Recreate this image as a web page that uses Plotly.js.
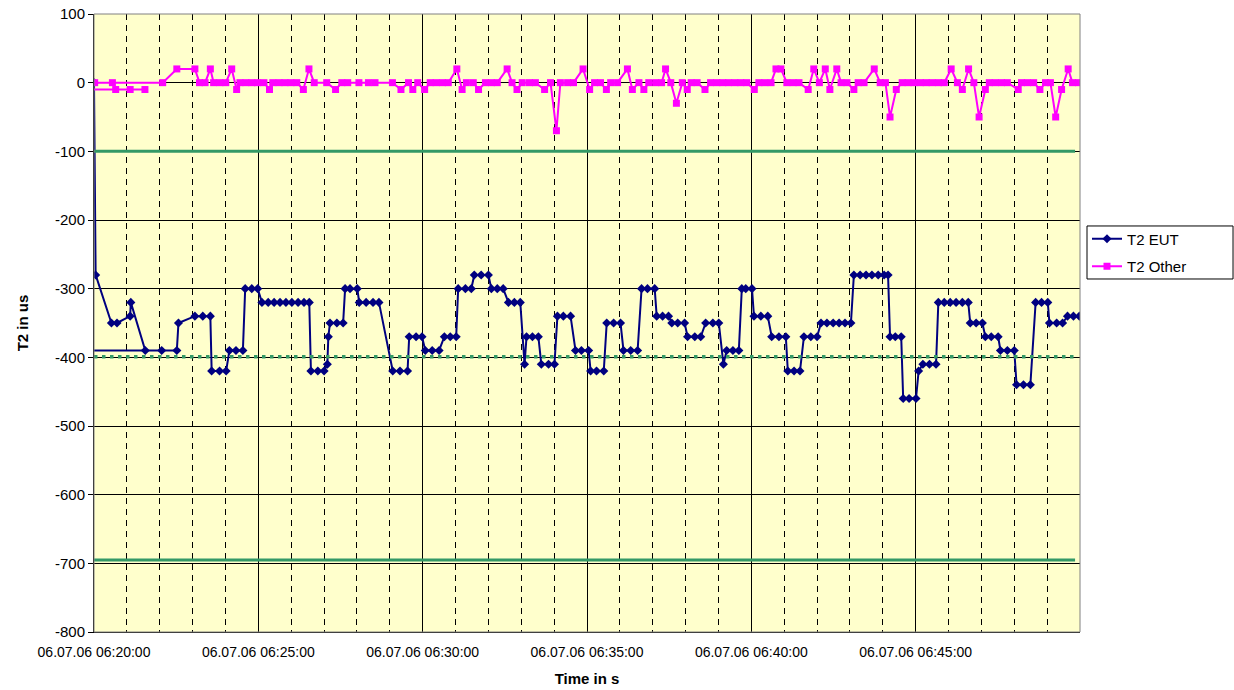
<!DOCTYPE html>
<html>
<head>
<meta charset="utf-8">
<script src="https://cdn.plot.ly/plotly-3.0.1.min.js"></script>
<style>html,body{margin:0;padding:0;background:#fff;}#chart{width:1234px;height:690px;}</style>
</head>
<body>
<div id="chart"></div>
<script>
// x values: minutes elapsed after 06.07.06 06:20:00
const timeTickMinutes = [0, 5, 10, 15, 20, 25];
const timeTickLabels = ["06.07.06 06:20:00", "06.07.06 06:25:00", "06.07.06 06:30:00",
                        "06.07.06 06:35:00", "06.07.06 06:40:00", "06.07.06 06:45:00"];
const valueTicks = [100, 0, -100, -200, -300, -400, -500, -600, -700, -800];
const valueTickLabels = ["100", "0", "-100", "-200", "-300", "-400", "-500", "-600", "-700", "-800"];

const eutMinutes = [
  0.00,0.05,0.53,0.70,1.10,1.12,1.56,
  -0.50,2.06,2.52,
  2.57,3.07,3.31,3.54,
  3.58,3.82,4.02,4.12,4.32,4.53,
  4.60,4.80,4.98,
  5.11,5.30,5.48,5.66,5.84,6.02,6.21,6.39,6.55,
  6.60,6.81,7.00,7.10,7.13,
  7.18,7.39,7.58,7.64,7.79,8.01,
  8.07,8.28,8.49,8.67,
  9.09,9.31,9.54,9.59,9.80,9.98,
  10.08,10.29,10.50,10.66,10.84,11.02,
  11.08,11.30,11.48,11.57,11.78,12.00,
  12.09,12.27,12.45,12.61,12.79,12.97,
  13.10,13.16,13.34,13.52,
  13.61,13.83,14.01,14.10,14.28,14.50,
  14.65,14.83,15.05,15.11,15.29,15.51,
  15.60,15.81,16.02,16.11,16.33,16.54,
  16.66,16.84,17.06,17.12,17.30,17.48,
  17.58,17.76,17.97,18.06,18.28,18.46,
  18.61,18.83,19.01,19.15,
  19.25,19.44,19.62,19.71,19.83,20.02,
  20.08,20.29,20.50,20.62,20.84,21.05,
  21.11,21.30,21.48,21.60,21.81,22.00,
  22.12,22.30,22.49,22.67,22.85,23.03,
  23.12,23.31,23.49,23.67,23.86,24.04,24.16,
  24.22,24.38,24.56,24.62,24.80,25.01,
  25.09,25.22,25.42,25.62,
  25.69,25.87,26.05,26.23,26.42,26.60,
  26.66,26.84,27.03,27.12,27.30,27.51,
  27.58,27.79,28.00,28.07,28.28,28.49,
  28.65,28.83,29.02,29.07,29.29,29.47,
  29.62,29.80,29.98
];
const eutValues = [
  0,-280,-350,-350,-340,-320,-390,
  -390,-390,-390,
  -350,-340,-340,-340,
  -420,-420,-420,-390,-390,-390,
  -300,-300,-300,
  -320,-320,-320,-320,-320,-320,-320,-320,-320,
  -420,-420,-420,-410,-370,
  -350,-350,-350,-300,-300,-300,
  -320,-320,-320,-320,
  -420,-420,-420,-370,-370,-370,
  -390,-390,-390,-370,-370,-370,
  -300,-300,-300,-280,-280,-280,
  -300,-300,-300,-320,-320,-320,
  -410,-370,-370,-370,
  -410,-410,-410,-340,-340,-340,
  -390,-390,-390,-420,-420,-420,
  -350,-350,-350,-390,-390,-390,
  -300,-300,-300,-340,-340,-340,
  -350,-350,-350,-370,-370,-370,
  -350,-350,-350,-410,
  -390,-390,-390,-300,-300,-300,
  -340,-340,-340,-370,-370,-370,
  -420,-420,-420,-370,-370,-370,
  -350,-350,-350,-350,-350,-350,
  -280,-280,-280,-280,-280,-280,-280,
  -370,-370,-370,-460,-460,-460,
  -420,-410,-410,-410,
  -320,-320,-320,-320,-320,-320,
  -350,-350,-350,-370,-370,-370,
  -390,-390,-390,-440,-440,-440,
  -320,-320,-320,-350,-350,-350,
  -340,-340,-340
];

const otherMinutes = [
  1.55,1.10,0.66,-0.50,-0.50,0.02,0.56,2.09,
  2.52,3.07,3.21,3.38,3.54,3.64,3.83,4.01,
  4.19,4.34,4.44,4.62,4.80,4.98,5.17,
  5.34,5.44,5.63,5.81,5.99,6.17,
  6.37,6.54,6.70,7.08,7.35,7.54,7.72,8.06,8.35,8.55,9.08,
  9.34,9.57,9.70,9.85,10.06,10.23,10.41,10.60,10.78,
  11.04,11.20,11.33,11.54,11.70,11.91,12.09,12.27,
  12.57,12.72,12.87,13.03,13.25,13.43,13.71,13.89,
  14.07,14.19,14.41,14.59,14.88,15.08,15.23,15.41,
  15.59,15.72,15.93,16.23,16.38,16.58,16.73,16.88,17.09,17.27,
  17.39,17.55,17.72,17.90,18.05,18.17,18.35,
  18.59,18.76,18.95,19.13,19.31,19.50,19.68,19.86,
  20.09,20.23,20.41,20.60,20.75,20.90,21.08,21.27,21.45,
  21.73,21.90,22.07,22.25,22.39,22.60,22.73,22.91,
  23.12,23.25,23.43,23.74,23.92,24.08,
  24.22,24.41,24.59,24.77,24.95,25.14,25.32,25.50,25.69,25.87,
  26.08,26.27,26.42,26.61,26.77,26.93,27.12,
  27.24,27.42,27.61,27.79,28.12,28.22,28.40,28.59,
  28.78,28.95,29.10,29.26,29.44,29.64,29.77,29.95
];
const otherValues = [
  -10,-10,-10,-10,0,0,0,0,
  20,20,0,0,20,0,0,0,
  20,-10,0,0,0,0,0,
  -10,0,0,0,0,0,
  -10,20,0,0,-10,0,0,0,0,0,0,
  -10,0,-10,0,-10,0,0,0,0,
  20,-10,0,0,-10,0,0,0,
  20,0,-10,0,0,0,-10,0,
  -70,0,0,0,20,-10,0,0,
  -10,0,0,20,-10,0,-10,0,0,0,
  20,0,-30,0,-10,0,0,
  -10,0,0,0,0,0,0,0,
  -10,0,0,0,20,20,0,0,0,
  -10,20,0,20,-10,20,0,0,
  -10,0,0,20,0,0,
  -50,-10,0,0,0,0,0,0,0,0,
  20,0,-10,20,0,-50,-10,
  0,0,0,0,-10,0,0,0,
  -10,0,0,-50,-10,20,0,0
];

// reference limit lines (start / end of the limit series, in minutes)
const limitMinutes = [0, 29.85];
const upperLimit = [-100, -100];
const nominalValue = [-399, -399];
const lowerLimit = [-695, -695];

const FONT = "Liberation Sans, Arial, sans-serif";

const traces = [
  {
    x: eutMinutes, y: eutValues, name: "T2 EUT", type: "scatter", mode: "lines+markers",
    legendgroup: "eut",
    line: {color: "#000080", width: 2},
    marker: {symbol: "diamond", size: 7, color: "#000080"}
  },
  {
    x: otherMinutes, y: otherValues, name: "T2 Other", type: "scatter", mode: "lines+markers",
    legendgroup: "other",
    line: {color: "#FF00FF", width: 2},
    marker: {symbol: "square", size: 7, color: "#FF00FF"}
  },
  {
    x: limitMinutes, y: upperLimit, type: "scatter", mode: "lines", showlegend: false,
    line: {color: "#339966", width: 3}, hoverinfo: "skip"
  },
  {
    x: limitMinutes, y: nominalValue, type: "scatter", mode: "lines", showlegend: false,
    line: {color: "#339966", width: 3.5, dash: "3.5px,4.5px"}, hoverinfo: "skip"
  },
  {
    x: limitMinutes, y: lowerLimit, type: "scatter", mode: "lines", showlegend: false,
    line: {color: "#339966", width: 3}, hoverinfo: "skip"
  }
];

const layout = {
  width: 1234, height: 690,
  margin: {l: 94, r: 154, t: 14, b: 58},
  paper_bgcolor: "#ffffff",
  plot_bgcolor: "#FFFFCC",
  font: {family: FONT, color: "#000"},
  showlegend: true,
  legend: {
    x: 1.0071, xanchor: "left", y: 0.614, yanchor: "middle",
    bgcolor: "rgba(0,0,0,0)", borderwidth: 0,
    font: {family: FONT, size: 15, color: "#000"},
    tracegroupgap: 5
  },
  xaxis: {
    range: [0, 30],
    tickmode: "array", tickvals: timeTickMinutes, ticktext: timeTickLabels,
    showgrid: true, gridcolor: "#000", gridwidth: 1,
    minor: {tickmode: "linear", tick0: 0, dtick: 1, showgrid: true, gridcolor: "#000",
            gridwidth: 1, griddash: "6px,5px", ticks: ""},
    showline: true, linecolor: "#000", linewidth: 1,
    ticks: "", zeroline: false, ticklabelstandoff: 7,
    tickfont: {family: FONT, size: 14, color: "#000"},
    title: {text: "<b>Time in s</b>", font: {family: FONT, size: 15, color: "#000"}, standoff: 14}
  },
  yaxis: {
    range: [-800, 100],
    tickmode: "array", tickvals: valueTicks, ticktext: valueTickLabels,
    showgrid: true, gridcolor: "#000", gridwidth: 1,
    showline: true, linecolor: "#000", linewidth: 1,
    ticks: "outside", ticklen: 5, tickcolor: "#000",
    zeroline: false,
    tickfont: {family: FONT, size: 15, color: "#000"},
    title: {text: "<b>T2 in us</b>", font: {family: FONT, size: 15, color: "#000"}, standoff: 22}
  },
  shapes: [
    {type: "rect", xref: "paper", yref: "paper", x0: 0, x1: 1, y0: 0, y1: 1,
     line: {color: "#808080", width: 1}, fillcolor: "rgba(0,0,0,0)", layer: "above"},
    {type: "rect", xref: "paper", yref: "paper", x0: 1.0071, x1: 1.1552, y0: 0.5712, y1: 0.657,
     line: {color: "#000000", width: 1}, fillcolor: "#ffffff", layer: "below"}
  ]
};

Plotly.newPlot("chart", traces, layout, {displayModeBar: false, staticPlot: true});
</script>
</body>
</html>
